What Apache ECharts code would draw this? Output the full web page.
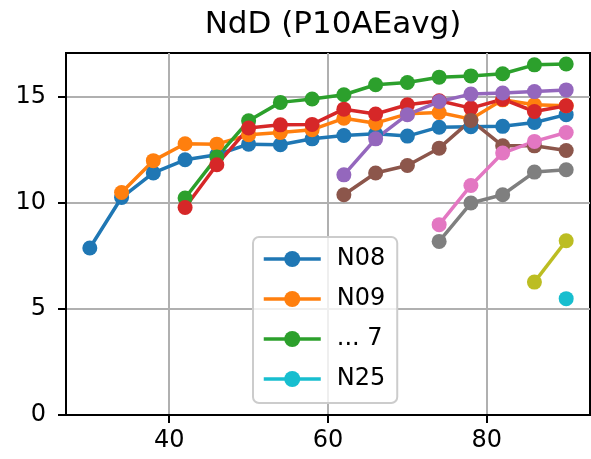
<!DOCTYPE html>
<html>
<head>
<meta charset="utf-8">
<script src="https://cdn.jsdelivr.net/npm/echarts@6/dist/echarts.min.js"></script>
<style>html,body{margin:0;padding:0;background:#fff}#c{width:591px;height:459px}</style>
</head>
<body>
<div id="c"></div>
<script>
const titleText = 'NdD (P10AEavg)';
const xTicks = [40, 60, 80];
const yTicks = [0, 5, 10, 15];
const seriesNames = ['N08', 'N09', '... 7', 'N10', 'N11', 'N12', 'N13', 'N14', 'N15', 'N25'];
const legendNames = ['N08', 'N09', '... 7', 'N25'];
const colors = ['#1f77b4', '#ff7f0e', '#2ca02c', '#d62728', '#9467bd', '#8c564b', '#e377c2', '#7f7f7f', '#bcbd22', '#17becf'];

const xN08 = [30, 34, 38, 42, 46, 50, 54, 58, 62, 66, 70, 74, 78, 82, 86, 90];
const yN08 = [7.88, 10.26, 11.42, 12.04, 12.28, 12.78, 12.75, 13.03, 13.19, 13.27, 13.16, 13.58, 13.6, 13.62, 13.8, 14.17];
const xN09 = [34, 38, 42, 46, 50, 54, 58, 62, 66, 70, 74, 78, 82, 86, 90];
const yN09 = [10.5, 12.0, 12.8, 12.78, 13.22, 13.33, 13.46, 14.0, 13.77, 14.21, 14.27, 13.96, 14.87, 14.64, 14.59];
const xG = [42, 46, 50, 54, 58, 62, 66, 70, 74, 78, 82, 86, 90];
const yG = [10.24, 12.17, 13.88, 14.75, 14.91, 15.11, 15.58, 15.69, 15.94, 16.0, 16.1, 16.52, 16.56];
const xR = [42, 46, 50, 54, 58, 62, 66, 70, 74, 78, 82, 86, 90];
const yR = [9.79, 11.81, 13.54, 13.69, 13.71, 14.43, 14.2, 14.64, 14.83, 14.48, 14.9, 14.32, 14.59];
const xP = [62, 66, 70, 74, 78, 82, 86, 90];
const yP = [11.33, 13.03, 14.17, 14.79, 15.14, 15.19, 15.26, 15.34];
const xB = [62, 66, 70, 74, 78, 82, 86, 90];
const yB = [10.39, 11.42, 11.77, 12.59, 13.9, 12.7, 12.7, 12.48];
const xPk = [74, 78, 82, 86, 90];
const yPk = [8.98, 10.83, 12.36, 12.91, 13.33];
const xGr = [74, 78, 82, 86, 90];
const yGr = [8.19, 10.0, 10.39, 11.46, 11.57];
const xO = [86, 90];
const yO = [6.27, 8.22];
const xC = [90];
const yC = [5.49];

const allX = [xN08, xN09, xG, xR, xP, xB, xPk, xGr, xO, xC];
const allY = [yN08, yN09, yG, yR, yP, yB, yPk, yGr, yO, yC];

const FONT = 'DejaVu Sans';
const chart = echarts.init(document.getElementById('c'), null, {renderer: 'canvas'});

const series = allX.map((xs, i) => ({
  name: seriesNames[i],
  type: 'line',
  data: xs.map((x, j) => [x, allY[i][j]]),
  symbol: 'circle',
  symbolSize: 15,
  showSymbol: true,
  showAllSymbol: true,
  color: colors[i],
  lineStyle: {width: 3.5, color: colors[i]},
  itemStyle: {color: colors[i]},
  emphasis: {disabled: true},
  z: 3
}));

chart.setOption({
  animation: false,
  backgroundColor: '#ffffff',
  title: {
    text: titleText,
    left: 328, textAlign: 'center',
    top: 4,
    textStyle: {fontFamily: FONT, fontSize: 31, fontWeight: 'normal', color: '#000'}
  },
  legend: {
    data: legendNames,
    orient: 'vertical',
    left: 253, top: 237,
    padding: [8, 12, 10, 9],
    itemWidth: 57, itemHeight: 20,
    itemGap: 12,
    lineStyle: {width: 3.5},
    backgroundColor: 'rgba(255,255,255,0.8)',
    borderColor: '#cccccc', borderWidth: 2, borderRadius: 6,
    textStyle: {fontFamily: FONT, fontSize: 24, color: '#000', lineHeight: 28, padding: [0, 0, 0, 11]},
    selectedMode: false,
    z: 10
  },
  grid: {
    left: 66, right: 1, top: 53, bottom: 44,
    show: true, borderColor: '#000', borderWidth: 2, containLabel: false
  },
  xAxis: {
    type: 'value', min: 27, max: 93,
    axisLine: {show: true, onZero: false, lineStyle: {color: '#000', width: 2}},
    axisTick: {show: true, length: 8, lineStyle: {color: '#000', width: 2}, customValues: xTicks},
    axisLabel: {fontFamily: FONT, fontSize: 24, color: '#000', margin: 14, customValues: xTicks},
    splitLine: {show: true, lineStyle: {color: '#b0b0b0', width: 2}}
  },
  yAxis: {
    type: 'value', min: 0, max: 17.08, interval: 5,
    axisLine: {show: true, onZero: false, lineStyle: {color: '#000', width: 2}},
    axisTick: {show: true, length: 8, lineStyle: {color: '#000', width: 2}, customValues: yTicks},
    axisLabel: {fontFamily: FONT, fontSize: 24, color: '#000', margin: 20, customValues: yTicks},
    splitLine: {show: true, lineStyle: {color: '#b0b0b0', width: 2}}
  },
  series: series
});
</script>
</body>
</html>
